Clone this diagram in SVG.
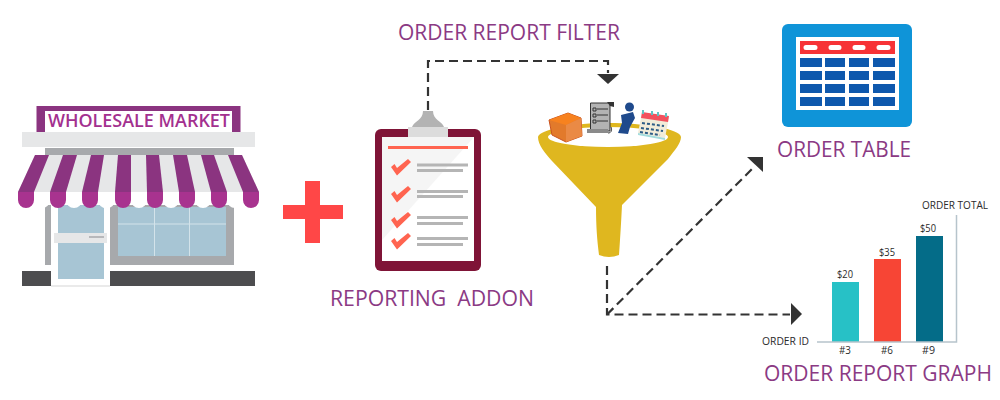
<svg xmlns="http://www.w3.org/2000/svg" width="1000" height="400" viewBox="0 0 1000 400">
<style>
.t{font-family:"Open Sans","Liberation Sans",sans-serif;fill:#8b3a84;font-size:21.500px}
.s{font-family:"Open Sans","Liberation Sans",sans-serif;fill:#2b2b2b;font-size:11.500px}
.d{fill:none;stroke:#333;stroke-width:2.200;stroke-dasharray:9 5}
.h{fill:#333}
.p{fill:#8b3480}.m{fill:#a8338f}.w{fill:#e6e7e8}.g{fill:#a7a9ac}
.r{fill:#b5b5b5}.c{fill:#ff6450}.b{fill:#0e58ad}
</style>
<rect width="1000" height="400" fill="#fff"/>
<g id="market">
<rect class="p" x="36.500" y="106" width="204" height="26"/>
<rect x="45" y="111" width="187" height="21" fill="#fff"/>
<text x="48" y="127" textLength="182" lengthAdjust="spacingAndGlyphs" style="font-family:'Open Sans','Liberation Sans',sans-serif;font-size:18px;font-weight:600;fill:#a3308f">WHOLESALE MARKET</text>
<rect class="w" x="22" y="132" width="233" height="15"/>
<rect class="g" x="45" y="148" width="189" height="7"/>
<path class="w" d="M35 155H242L259 192H18Z"/>
<path class="p" d="M35 155H49L34 192H18Z"/>
<path class="p" d="M63 155H77L66 192H50Z"/>
<path class="p" d="M91 155H104L98 192H82Z"/>
<path class="p" d="M118 155H131L131 192H115Z"/>
<path class="p" d="M146 155H159L163 192H147Z"/>
<path class="p" d="M173 155H187L195 192H179Z"/>
<path class="p" d="M201 155H214L227 192H211Z"/>
<path class="p" d="M228 155H242L259 192H243Z"/>
<rect class="g" x="45" y="205" width="6" height="60"/>
<rect class="g" x="110" y="205" width="124" height="60"/>
<rect x="118" y="207" width="108" height="49" fill="#a7c5d4"/>
<path d="M154.500 207V256M189.500 207V256M118 224H226" stroke="#d3e3ea" stroke-width="1" fill="none"/>
<path d="M22 271H51V286H22ZM110 271H255V286H110Z" fill="#4d4d4f"/>
<rect x="51" y="205" width="59" height="81" fill="#fff"/>
<path d="M51 286H110" stroke="#d5d5d5" fill="none"/>
<rect x="58" y="205" width="46" height="74" fill="#a7c5d4"/>
<rect class="w" x="54" y="233" width="53" height="10"/>
<path d="M89 237H104" stroke="#a7a9ac" stroke-width="1.500" fill="none"/>
<path fill="#fff" d="M34 192H50V200A8 8 0 0 1 34 200ZM66 192H82V200A8 8 0 0 1 66 200ZM98 192H115V200A8.500 8.500 0 0 1 98 200ZM131 192H147V200A8 8 0 0 1 131 200ZM163 192H179V200A8 8 0 0 1 163 200ZM195 192H211V200A8 8 0 0 1 195 200ZM227 192H243V200A8 8 0 0 1 227 200Z"/>
<path class="m" d="M18 192H34V200A8 8 0 0 1 18 200ZM50 192H66V200A8 8 0 0 1 50 200ZM82 192H98V200A8 8 0 0 1 82 200ZM115 192H131V200A8 8 0 0 1 115 200ZM147 192H163V200A8 8 0 0 1 147 200ZM179 192H195V200A8 8 0 0 1 179 200ZM211 192H227V200A8 8 0 0 1 211 200ZM243 192H259V200A8 8 0 0 1 243 200Z"/>
</g>
<g id="plus">
<path fill="#ff4747" d="M305 181H320V205H343V219H320V243H305V219H283V205H305Z"/>
</g>
<g id="connectors">
<path class="d" d="M428 110V61H608V73"/>
<path class="h" d="M597 74H619L608 84Z"/>
<path class="d" d="M607 266V314.500H790"/>
<path class="h" d="M791 303L802 314L791 325Z"/>
<path class="d" d="M607 314.500L753 168"/>
<path class="h" d="M747 157H763V172Z"/>
</g>
<g id="addon">
<rect x="375" y="129" width="106" height="142" rx="6" fill="#7f1437"/>
<rect x="382" y="137" width="92" height="124" fill="#fff"/>
<path d="M382 137H474L382 240Z" fill="#f5f5f5"/>
<path d="M412 127C414 121 423 120 423 111H433C433 120 442 121 444 127Z" fill="#b3b3b3"/>
<rect x="408" y="127" width="40" height="10" fill="#dcdcdc"/>
<rect class="c" x="388" y="146" width="80" height="3"/>
<path class="c" d="M391 167L397 175.500L411 162L408 159L397 168L394.500 164Z"/>
<path class="c" d="M391 194L397 202.500L411 189L408 186L397 195L394.500 191Z"/>
<path class="c" d="M391 220L397 228.500L411 215L408 212L397 221L394.500 217Z"/>
<path class="c" d="M391 241L397 249.500L411 236L408 233L397 242L394.500 238Z"/>
<path class="r" d="M417 163.500H468V166.500H417ZM417 169H463V172H417ZM417 190H468V193H417ZM417 195H463V198H417ZM417 216H468V219H417ZM417 222H463V225H417ZM417 237H468V240H417ZM417 243H463V246H417Z"/>
</g>
<g id="funnel">
<path fill="#dfb71f" d="M538 137C540 129 575 123 608 123C645 123 680 129 681 137C681 143 675 150 668 159L622 205C621 225 620 240 619 255Q609 259 599 255C597 240 596 225 596 207L552 161C545 153 538 145 538 137Z"/>
<ellipse cx="608" cy="137" rx="60" ry="10" fill="#fff"/>
<path fill="#e27a2b" stroke="#c9531f" d="M549 120L568 113L581 118L582 136L566 142L552 135Z"/>
<path fill="#f7821f" d="M549 120L568 113L581 118L566 125Z"/>
<path fill="#ea8a45" d="M566 125L581 118L582 136L566 142Z"/>
<path fill="#b3b3b3" stroke="#333" stroke-width="1" d="M590.500 103H610V131H590.500Z"/>
<path fill="#333" d="M607 102H614V107L610 106Z"/>
<path fill="#8a8a8a" d="M587 129H608V133H587Z"/>
<path stroke="#333" stroke-width="1" fill="none" d="M597 109H608M597 115H608M597 121H608M593 108H596V111H593ZM593 114H596V117H593ZM593 120H596V123H593Z"/>
<path d="M608 133C612 133 612 129 611 127" fill="none" stroke="#333" stroke-width="1"/>
<circle cx="629.500" cy="107" r="4.500" fill="#1f4a8c"/>
<path fill="#1f4a8c" d="M621 115L633 112L635 118L630 127L628 134L618 133L622 123Z"/>
<path fill="#f2ecd9" d="M642 113L669 117L665 138L638 133Z"/>
<path fill="#f2515e" d="M642 112L669 116L668 122L641 118Z"/>
<path fill="#a3dcdc" d="M638 133L665 138V140L638 135Z"/>
<path stroke="#5fc4c4" stroke-width="2" fill="none" d="M643 110V114M652 111V115M658 112V116M666 113V117"/>
<path stroke="#2e5d87" stroke-width="2" stroke-dasharray="3 2" fill="none" d="M642 123L664 126M641 128L663 131M640 132L660 135"/>
</g>
<g id="table">
<rect x="782" y="24" width="130" height="103" rx="6" fill="#0f94d8"/>
<rect x="796" y="37" width="103" height="73" fill="#fff"/>
<rect x="800" y="41" width="95" height="13" fill="#f73337"/>
<path fill="#fff" d="M806 45H815A2.500 2.500 0 0 1 815 50H806A2.500 2.500 0 0 1 806 45ZM831 45H839A2.500 2.500 0 0 1 839 50H831A2.500 2.500 0 0 1 831 45ZM855 45H863A2.500 2.500 0 0 1 863 50H855A2.500 2.500 0 0 1 855 45ZM879 45H888A2.500 2.500 0 0 1 888 50H879A2.500 2.500 0 0 1 879 45Z"/>
<path class="b" d="M800 58h22v9h-22zM825 58h20v9h-20zM849 58h20v9h-20zM873 58h22v9h-22zM800 71h22v9h-22zM825 71h20v9h-20zM849 71h20v9h-20zM873 71h22v9h-22zM800 84h22v9h-22zM825 84h20v9h-20zM849 84h20v9h-20zM873 84h22v9h-22zM800 97h22v9h-22zM825 97h20v9h-20zM849 97h20v9h-20zM873 97h22v9h-22z"/>
</g>
<g id="graph">
<rect x="832" y="282" width="27" height="60" fill="#27c1c6"/>
<rect x="874" y="259" width="27" height="83" fill="#f74535"/>
<rect x="916" y="236" width="27" height="106" fill="#046c88"/>
<path d="M817 342H956.500V215" fill="none" stroke="#b6c4cc" stroke-width="1.500"/>
<text class="s" x="922" y="209" textLength="66" lengthAdjust="spacingAndGlyphs">ORDER TOTAL</text>
<text class="s" x="762" y="345" textLength="47" lengthAdjust="spacingAndGlyphs">ORDER ID</text>
<text class="s" x="837" y="278" textLength="16" lengthAdjust="spacingAndGlyphs">$20</text>
<text class="s" x="879" y="256" textLength="16" lengthAdjust="spacingAndGlyphs">$35</text>
<text class="s" x="920" y="232" textLength="16" lengthAdjust="spacingAndGlyphs">$50</text>
<text class="s" x="839" y="354" textLength="12" lengthAdjust="spacingAndGlyphs">#3</text>
<text class="s" x="881" y="354" textLength="12" lengthAdjust="spacingAndGlyphs">#6</text>
<text class="s" x="922" y="354" textLength="13" lengthAdjust="spacingAndGlyphs">#9</text>
</g>
<g id="labels">
<text class="t" x="398" y="40" textLength="222" lengthAdjust="spacingAndGlyphs">ORDER REPORT FILTER</text>
<text class="t" x="330" y="306" textLength="204" lengthAdjust="spacingAndGlyphs" xml:space="preserve">REPORTING  ADDON</text>
<text class="t" x="777" y="157" textLength="134" lengthAdjust="spacingAndGlyphs">ORDER TABLE</text>
<text class="t" x="764" y="381" textLength="228" lengthAdjust="spacingAndGlyphs">ORDER REPORT GRAPH</text>
</g>
</svg>
